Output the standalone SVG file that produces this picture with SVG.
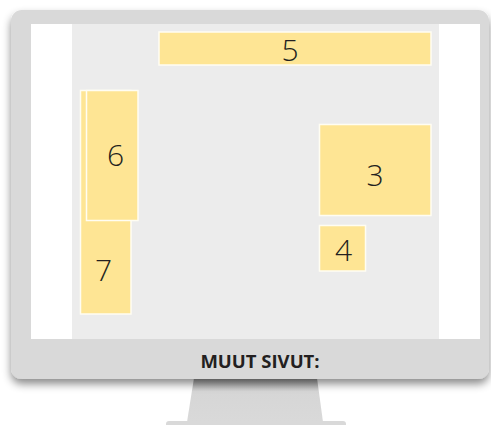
<svg xmlns="http://www.w3.org/2000/svg" width="491" height="425" viewBox="0 0 491 425">
<defs>
<filter id="sh" x="-10%" y="-10%" width="120%" height="125%">
<feDropShadow dx="0" dy="5" stdDeviation="4" flood-color="#000" flood-opacity="0.45"/>
</filter>
<linearGradient id="neck" x1="0" y1="0" x2="0" y2="1">
<stop offset="0" stop-color="#9a9a9a"/>
<stop offset="0.3" stop-color="#d6d6d6"/>
<stop offset="1" stop-color="#d9d9d9"/>
</linearGradient>
<style>
.box{fill:#fee594;stroke:#fffdf2;stroke-width:1.5}
.num{font-family:"Open Sans","DejaVu Sans",sans-serif;font-weight:300;font-size:30px;fill:#231f20;text-anchor:middle}
.lbl{font-family:"Open Sans","DejaVu Sans",sans-serif;font-weight:700;font-size:18.5px;fill:#231f20;text-anchor:middle}
</style>
</defs>
<g id="stand">
<rect x="166" y="421" width="180" height="10" rx="3" fill="#d9d9d9"/>
<polygon points="194,378 317,378 323,422 187,422" fill="url(#neck)"/>
</g>
<g id="monitor">
<rect x="11" y="10" width="478" height="369" rx="11" fill="#d9d9d9" filter="url(#sh)"/>
<rect x="31" y="24" width="449" height="315" fill="#ffffff"/>
<rect x="72" y="24" width="367" height="315" fill="#ececec"/>
<text class="lbl" x="260" y="368">MUUT SIVUT:</text>
</g>
<g id="box5">
<rect class="box" x="159" y="32" width="272" height="33"/>
<text class="num" x="290" y="61">5</text>
</g>
<g id="box7">
<rect class="box" x="80.5" y="90.5" width="50.5" height="223.5"/>
<text class="num" x="103.5" y="281">7</text>
</g>
<g id="box6">
<rect class="box" x="86.5" y="90.5" width="51.5" height="130"/>
<text class="num" x="115.5" y="166">6</text>
</g>
<g id="box3">
<rect class="box" x="319.5" y="124.5" width="111.5" height="91"/>
<text class="num" x="375" y="186">3</text>
</g>
<g id="box4">
<rect class="box" x="319.5" y="225.5" width="46" height="45.5"/>
<text class="num" x="343.5" y="261">4</text>
</g>
</svg>
